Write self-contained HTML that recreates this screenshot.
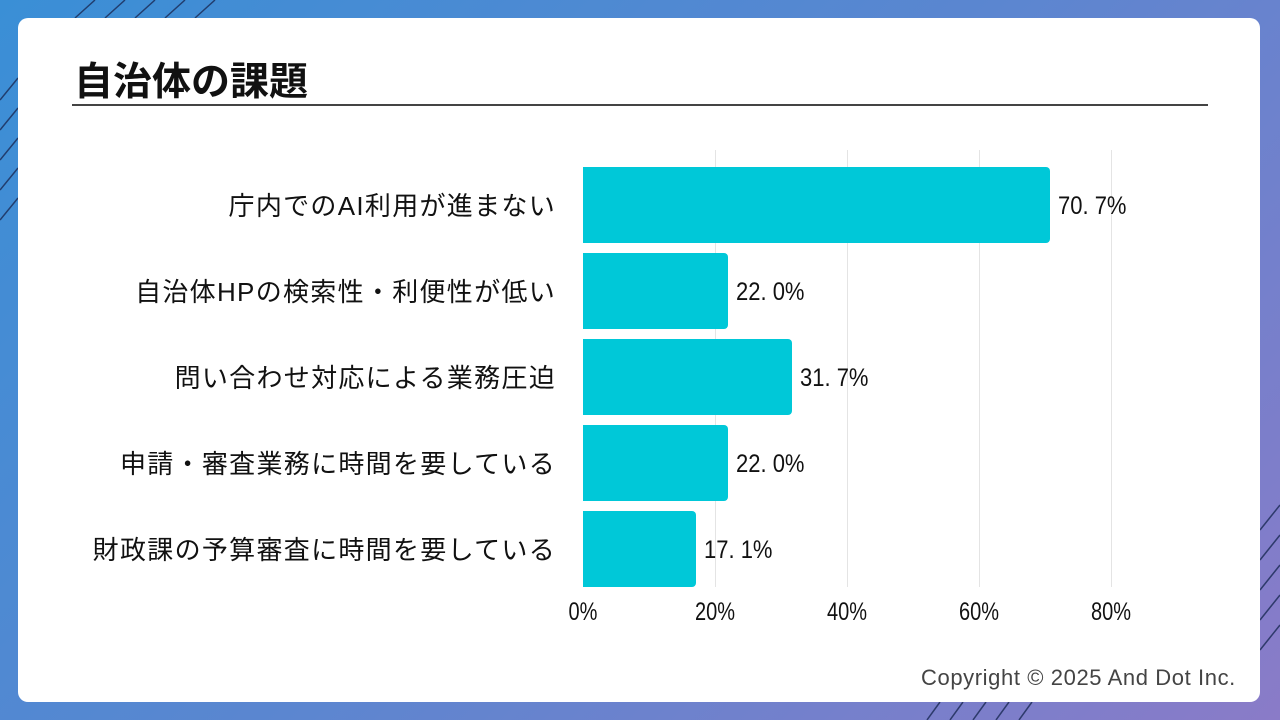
<!DOCTYPE html>
<html><head><meta charset="utf-8"><style>
body{margin:0;width:1280px;height:720px;overflow:hidden;background:linear-gradient(135deg,#3a8fd6 0%,#5b86d0 50%,#8a7bc8 100%);position:relative;font-family:"Liberation Sans","Noto Sans CJK JP",sans-serif}
.card{position:absolute;left:18px;top:18px;width:1242px;height:684px;background:#fff;border-radius:10px}
.t{position:absolute;font-family:"Liberation Sans","Noto Sans CJK JP",sans-serif}
.lab{position:absolute;right:724px;font-size:26px;letter-spacing:1.3px;color:#111;white-space:nowrap;line-height:30px}
.bar{position:absolute;left:583px;height:76px;background:#00c8d8;border-radius:0 4px 4px 0}
.val{position:absolute;font-size:25px;color:#111;line-height:30px;transform:scaleX(0.88);transform-origin:left}
.tick{position:absolute;top:598px;font-size:25px;color:#111;transform:translateX(-50%) scaleX(0.8)}
.g{position:absolute;top:150px;height:437px;width:1px;background:#e4e4e4}
</style></head><body>
<svg width="1280" height="720" style="position:absolute;left:0;top:0">
<g stroke="#1a2a55" stroke-width="1.5" opacity="0.8">
<line x1="75" y1="18" x2="95" y2="0"/><line x1="105" y1="18" x2="125" y2="0"/><line x1="135" y1="18" x2="155" y2="0"/><line x1="165" y1="18" x2="185" y2="0"/><line x1="195" y1="18" x2="215" y2="0"/>
<line x1="0" y1="100" x2="18" y2="78"/><line x1="0" y1="130" x2="18" y2="108"/><line x1="0" y1="160" x2="18" y2="138"/><line x1="0" y1="190" x2="18" y2="168"/><line x1="0" y1="220" x2="18" y2="198"/>
<line x1="1260" y1="530" x2="1280" y2="505"/><line x1="1260" y1="560" x2="1280" y2="535"/><line x1="1260" y1="590" x2="1280" y2="565"/><line x1="1260" y1="620" x2="1280" y2="595"/><line x1="1260" y1="650" x2="1280" y2="625"/>
<line x1="927" y1="720" x2="940" y2="702"/><line x1="950" y1="720" x2="963" y2="702"/><line x1="973" y1="720" x2="986" y2="702"/><line x1="996" y1="720" x2="1009" y2="702"/><line x1="1019" y1="720" x2="1032" y2="702"/>
</g></svg>
<div class="card"></div>
<div class="t" style="left:74px;top:51px;font-size:39px;font-weight:bold;color:#111">自治体の課題</div>
<div style="position:absolute;left:72px;top:104px;width:1136px;height:2px;background:#444"></div>
<div class="g" style="left:715px"></div><div class="g" style="left:847px"></div><div class="g" style="left:979px"></div><div class="g" style="left:1111px"></div>
<div class="bar" style="top:167px;width:467px"></div>
<div class="bar" style="top:253px;width:145px"></div>
<div class="bar" style="top:339px;width:209px"></div>
<div class="bar" style="top:425px;width:145px"></div>
<div class="bar" style="top:511px;width:113px"></div>
<div class="lab" style="top:191px">庁内でのAI利用が進まない</div>
<div class="lab" style="top:277px">自治体HPの検索性・利便性が低い</div>
<div class="lab" style="top:363px">問い合わせ対応による業務圧迫</div>
<div class="lab" style="top:449px">申請・審査業務に時間を要している</div>
<div class="lab" style="top:535px">財政課の予算審査に時間を要している</div>
<div class="val" style="left:1058px;top:191px">70. 7%</div>
<div class="val" style="left:736px;top:277px">22. 0%</div>
<div class="val" style="left:800px;top:363px">31. 7%</div>
<div class="val" style="left:736px;top:449px">22. 0%</div>
<div class="val" style="left:704px;top:535px">17. 1%</div>
<div class="tick" style="left:583px">0%</div><div class="tick" style="left:715px">20%</div><div class="tick" style="left:847px">40%</div><div class="tick" style="left:979px">60%</div><div class="tick" style="left:1111px">80%</div>
<div class="t" style="left:921px;top:665px;font-size:22px;color:#444;letter-spacing:0.6px">Copyright © 2025 And Dot Inc.</div>
</body></html>
